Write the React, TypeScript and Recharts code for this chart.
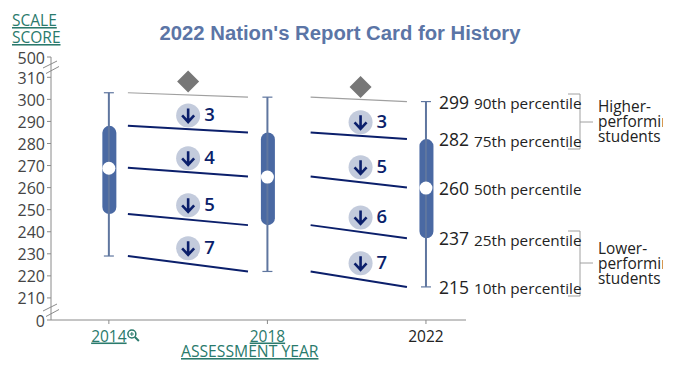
import React from 'react';
import { ComposedChart, Bar, Line, XAxis, YAxis } from 'recharts';

const years = [2014, 2018, 2022];
const p90 = [303, 301, 299];
const p75 = [288, 285, 282];
const p50 = [269, 265, 260];
const p25 = [248, 243, 237];
const p10 = [229, 222, 215];
const percentileNames = ['90th', '75th', '50th', '25th', '10th'];

// the axis is broken at both ends: 200 stands for 0, 319.2 stands for 500
const axisBottom = 200;
const axisTop = 319.2;
const yTicks = [axisBottom, 210, 220, 230, 240, 250, 260, 270, 280, 290, 300, 310, axisTop];

// where the change lines start and stop, in years
const leftSpan = [2014.48, 2017.51];
const rightSpan = [2019.09, 2021.52];

// significance markers between the years: x, height on the scale, number
const leftChanges = [
  { x: 2016, y: 292.7, change: 3 },
  { x: 2016, y: 273.3, change: 4 },
  { x: 2016, y: 252, change: 5 },
  { x: 2016, y: 232.5, change: 7 },
];
const rightChanges = [
  { x: 2020.35, y: 289.6, change: 3 },
  { x: 2020.35, y: 269.2, change: 5 },
  { x: 2020.35, y: 246.5, change: 6 },
  { x: 2020.35, y: 225.7, change: 7 },
];
const noChange = [
  { x: 2016, y: 308.1 },
  { x: 2020.35, y: 305.6 },
];

const FONT = '"Open Sans", sans-serif';
const TEAL = '#2a7a6c';
const NAVY = '#0b1f6b';
const BOX = '#4a69a3';
const WHISKER = '#5f769f';
const AXIS = '#8a8a8a';
const GRAY_LINE = '#a0a0a0';

const boxRows = years.map((x, i) => ({ x, box: [p25[i], p75[i]] }));
const medianRows = years.map((x, i) => ({ x, y: p50[i] }));
const labelRows = [p90, p75, p50, p25, p10].map((s, i) => ({ x: 2022, y: s[2], name: percentileNames[i] }));

const allSeries = [p90, p75, p50, p25, p10];
const segments = allSeries.flatMap((s, i) => [
  { key: `l${i}`, gray: i === 0, data: [{ x: leftSpan[0], y: s[0] }, { x: leftSpan[1], y: s[1] }] },
  { key: `r${i}`, gray: i === 0, data: [{ x: rightSpan[0], y: s[1] }, { x: rightSpan[1], y: s[2] }] },
]);

const WhiskerCap = ({ cx, cy }: any) => (
  <line x1={cx - 5} x2={cx + 5} y1={cy} y2={cy} stroke={WHISKER} strokeWidth={1.2} />
);

const MedianDot = ({ cx, cy }: any) => <circle cx={cx} cy={cy + 0.5} r={6.5} fill="#fff" />;

const ChangeMark = ({ cx, cy, payload }: any) => (
  <g>
    <circle cx={cx} cy={cy} r={12} fill="#c3cbdc" />
    <path
      d={`M${cx} ${cy - 7}V${cy + 6}M${cx - 6} ${cy}L${cx} ${cy + 6.5}L${cx + 6} ${cy}`}
      fill="none"
      stroke={NAVY}
      strokeWidth={2.6}
    />
    <text x={cx + 16} y={cy + 6} fontFamily={FONT} fontSize={18.5} fontWeight={600} fill={NAVY}>
      {payload.change}
    </text>
  </g>
);

const Diamond = ({ cx, cy }: any) => (
  <path d={`M${cx} ${cy - 11}L${cx + 11} ${cy}L${cx} ${cy + 11}L${cx - 11} ${cy}Z`} fill="#777" />
);

const PercentileLabel = ({ cx, cy, payload }: any) => (
  <g fontFamily={FONT} fill="#222">
    <text x={cx + 13} y={cy + 7} fontSize={17.5}>{payload.y}</text>
    <text x={cx + 48} y={cy + 7.5} fontSize={15.3}>{payload.name} percentile</text>
  </g>
);

const YearTick = ({ x, y, payload }: any) => {
  const latest = payload.value === 2022;
  return (
    <g>
      <text
        x={x}
        y={y + 15.5}
        textAnchor="middle"
        fontFamily={FONT}
        fontSize={15.5}
        fill={latest ? '#222' : TEAL}
        textDecoration={latest ? undefined : 'underline'}
      >
        {payload.value}
      </text>
      {payload.value === 2014 && (
        <g fill="none" stroke={TEAL}>
          <circle cx={x + 23} cy={y + 8} r={4} strokeWidth={1.5} />
          <path d={`M${x + 26} ${y + 11}L${x + 30} ${y + 15}`} strokeWidth={2} />
          <path d={`M${x + 21} ${y + 8}H${x + 25}M${x + 23} ${y + 6}V${y + 10}`} strokeWidth={1} />
        </g>
      )}
    </g>
  );
};

const ScoreTick = ({ x, y, payload }: any) => (
  <text x={x} y={y + 6.5} textAnchor="end" fill="#444" fontSize={16} fontFamily={FONT}>
    {payload.value === axisBottom ? '0' : payload.value === axisTop ? '500' : payload.value}
  </text>
);

const Bracket = ({ top, bottom, mid }: { top: number; bottom: number; mid: number }) => (
  <path
    d={`M568 ${top}H580V${bottom}H568M580 ${mid}H593`}
    fill="none"
    stroke={GRAY_LINE}
    strokeWidth={1}
  />
);

const AxisBreak = ({ y }: { y: number }) => (
  <g>
    <path d={`M44 ${y}L58 ${y - 7}L58 ${y - 1.5}L44 ${y + 5.5}Z`} fill="#fff" />
    <path d={`M43 ${y}L57 ${y - 7}M46 ${y + 5.5}L59 ${y - 1.5}`} stroke={AXIS} strokeWidth={1} />
  </g>
);

const GroupText = ({ y, first }: { y: number; first: string }) => (
  <text fontFamily={FONT} fontSize={15.4} fill="#222">
    <tspan x={598} y={y}>{first}</tspan>
    <tspan x={598} y={y + 15}>performing</tspan>
    <tspan x={598} y={y + 30}>students</tspan>
  </text>
);

export default function App() {
  return (
    <div style={{ position: 'absolute', left: 0, top: 0, width: 688, height: 376 }}>
      <ComposedChart
        width={663}
        height={376}
        data={boxRows}
        margin={{ top: 57, right: 197, bottom: 0, left: 0 }}
      >
        <XAxis
          type="number"
          dataKey="x"
          domain={[2012.54, 2023.01]}
          ticks={years}
          height={56}
          stroke={AXIS}
          tickSize={4}
          tick={<YearTick />}
          interval={0}
        />
        <YAxis
          type="number"
          domain={[axisBottom, axisTop]}
          ticks={yTicks}
          width={51}
          stroke={AXIS}
          tickSize={4}
          tickMargin={2}
          interval={0}
          tick={<ScoreTick />}
        />
        {years.map((year, i) => (
          <Line
            key={year}
            data={[{ x: year, y: p10[i] }, { x: year, y: p90[i] }]}
            dataKey="y"
            stroke={WHISKER}
            strokeWidth={2}
            dot={<WhiskerCap />}
            legendType="none"
            isAnimationActive={false}
          />
        ))}
        <Bar dataKey="box" fill={BOX} barSize={14} radius={7} isAnimationActive={false} />
        <Line
          data={medianRows}
          dataKey="y"
          stroke="none"
          dot={<MedianDot />}
          isAnimationActive={false}
        />
        {segments.map((s) => (
          <Line
            key={s.key}
            data={s.data}
            dataKey="y"
            stroke={s.gray ? GRAY_LINE : NAVY}
            strokeWidth={s.gray ? 1.2 : 2}
            dot={false}
            isAnimationActive={false}
          />
        ))}
        <Line data={leftChanges} dataKey="y" stroke="none" dot={<ChangeMark />} isAnimationActive={false} />
        <Line data={rightChanges} dataKey="y" stroke="none" dot={<ChangeMark />} isAnimationActive={false} />
        <Line data={noChange} dataKey="y" stroke="none" dot={<Diamond />} isAnimationActive={false} />
        <Line data={labelRows} dataKey="y" stroke="none" dot={<PercentileLabel />} isAnimationActive={false} />

        <AxisBreak y={68} />
        <AxisBreak y={311} />

        <text
          x={340}
          y={40}
          textAnchor="middle"
          fontFamily='"Liberation Sans", Arial, sans-serif'
          fontWeight={700}
          fontSize={20.3}
          fill="#5b75a6"
        >
          2022 Nation's Report Card for History
        </text>
        <text fontFamily={FONT} fontSize={15.5} fill={TEAL} textDecoration="underline">
          <tspan x={12} y={26}>SCALE</tspan>
          <tspan x={12} y={43}>SCORE</tspan>
        </text>
        <text x={181} y={357} fontFamily={FONT} fontSize={15.7} fill={TEAL} textDecoration="underline">
          ASSESSMENT YEAR
        </text>

        <Bracket top={94} bottom={149} mid={122} />
        <Bracket top={231} bottom={296} mid={263} />
        <GroupText y={112} first="Higher-" />
        <GroupText y={254} first="Lower-" />
      </ComposedChart>
    </div>
  );
}
